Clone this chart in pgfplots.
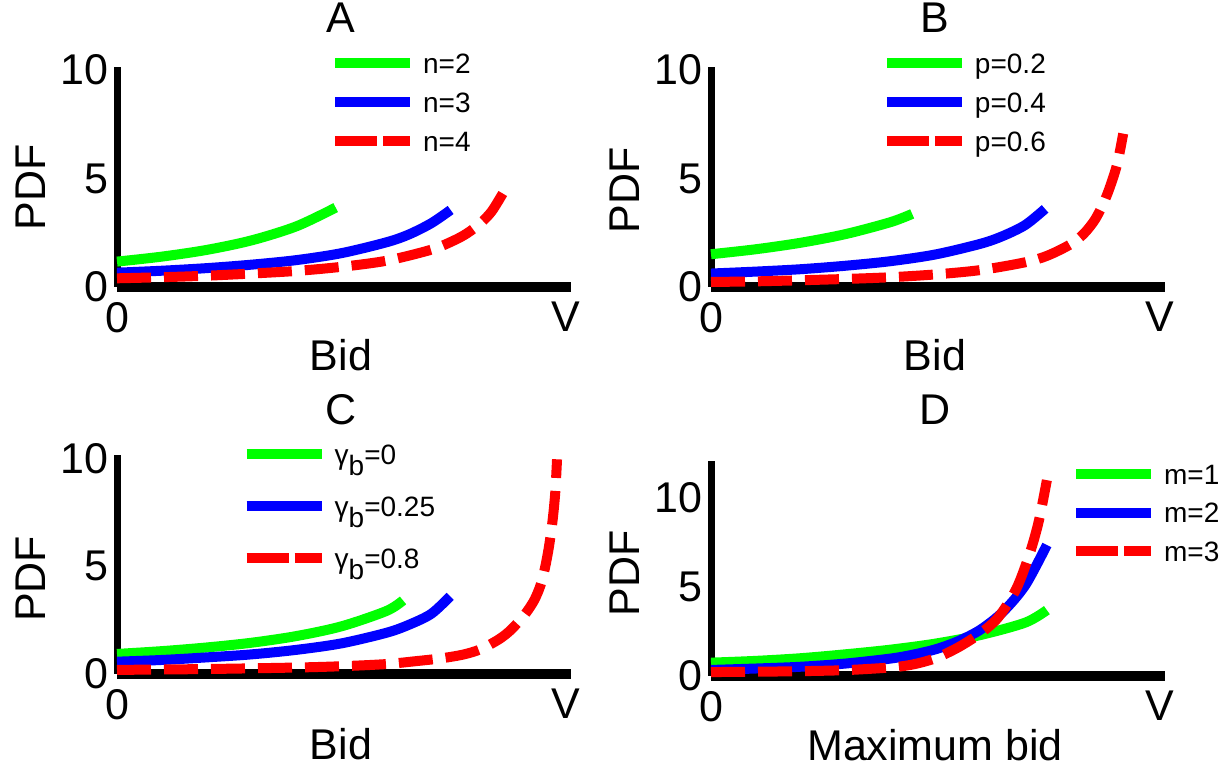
\documentclass[border=0pt]{standalone}
\usepackage{fontspec}
\setmainfont{Liberation Sans}
\usepackage{pgfplots}
\pgfplotsset{compat=1.18}

\definecolor{cgreen}{rgb}{0,1,0}
\definecolor{cblue}{rgb}{0,0,1}
\definecolor{cred}{rgb}{1,0,0}

\newcommand{\labfont}{\fontsize{21.5}{24}\selectfont}
\newcommand{\legfont}{\fontsize{14}{16}\selectfont}
\newcommand{\gb}{γ\raisebox{-5.5pt}{b}}

\pgfplotsset{
  panel/.style={
    scale only axis,
    width=226.75pt,
    clip=false,
    xmin=0, xmax=1.01,
    ymin=0,
    axis x line*=bottom,
    axis y line*=left,
    axis line style={-},
    x axis line style={-, line width=5pt, line cap=butt},
    y axis line style={-, line width=3.5pt, line cap=butt},
    xtick={0,1}, xticklabels={0,V},
    major tick length=0pt,
    tick label style={font=\labfont},
    xticklabel style={anchor=north, inner sep=0pt, yshift=-7.5pt},
    yticklabel style={anchor=east, inner sep=0pt, xshift=-4pt},
    label style={font=\labfont},
    every axis title shift=0pt,
    title style={font=\labfont, anchor=center},
    ylabel={PDF},
    legend cell align=left,
    legend style={draw=none, fill=none, inner sep=0pt, outer sep=0pt,
      anchor=west, font=\legfont, column sep=4pt,
      nodes={inner sep=0pt, text height=10pt, text depth=0pt}},
    legend image code/.code={\draw[#1] (0pt,0pt) -- (37.5pt,0pt);},
  },
  gline/.style={color=cgreen, line width=5pt, smooth, line join=round},
  bline/.style={color=cblue, line width=5pt, smooth, line join=round},
  rline/.style={color=cred, line width=5pt, smooth, line join=round,
    dash pattern=on 17pt off 6.5pt,
    legend image code/.code={\draw[##1, dash pattern=on 21pt off 3pt] (0pt,0pt) -- (37.5pt,0pt);}},
}

\begin{document}
\begin{tikzpicture}
\useasboundingbox (0,0) rectangle (612.5pt,384.5pt);

% ---------------- A: number of bidders
\begin{axis}[panel,
  at={(58.5pt,241pt)}, anchor=south west,
  height=110.1pt, ymax=10.15,
  ytick={0,5,10}, yticklabels={0,5,10},
  title={A}, title style={at={(axis description cs:0.494,1.221)}},
  xlabel={Bid}, xlabel style={at={(axis description cs:0.494,-0.309)}, anchor=center},
  ylabel style={at={(axis description cs:-0.19,0.454)}, anchor=center},
  legend style={at={(axis description cs:0.470,0.840)}, row sep=9.5pt},
]
\addplot[gline] coordinates {(0,1.17) (0.1,1.40) (0.2,1.71) (0.3,2.15) (0.4,2.80) (0.487,3.66)};
\addlegendentry{n=2}
\addplot[bline] coordinates {(0,0.66) (0.1,0.75) (0.2,0.87) (0.3,1.03) (0.4,1.24) (0.5,1.56) (0.6,2.06) (0.65,2.42) (0.7,2.94) (0.743,3.55)};
\addlegendentry{n=3}
\addplot[rline] coordinates {(0,0.40) (0.1,0.45) (0.2,0.52) (0.3,0.62) (0.4,0.74) (0.5,0.93) (0.6,1.21) (0.7,1.72) (0.75,2.14) (0.78,2.48) (0.81,2.95) (0.835,3.5) (0.862,4.41)};
\addlegendentry{n=4}
\end{axis}

% ---------------- B: probability p
\begin{axis}[panel,
  at={(355.5pt,241pt)}, anchor=south west,
  height=110.1pt, ymax=10.15,
  ytick={0,5,10}, yticklabels={0,5,10},
  title={B}, title style={at={(axis description cs:0.494,1.221)}},
  xlabel={Bid}, xlabel style={at={(axis description cs:0.494,-0.309)}, anchor=center},
  ylabel style={at={(axis description cs:-0.19,0.44)}, anchor=center},
  legend style={at={(axis description cs:0.377,0.840)}, row sep=9.5pt},
]
\addplot[gline] coordinates {(0,1.51) (0.1,1.74) (0.2,2.04) (0.3,2.44) (0.4,2.99) (0.448,3.37)};
\addlegendentry{p=0.2}
\addplot[bline] coordinates {(0,0.62) (0.1,0.71) (0.2,0.82) (0.3,0.98) (0.4,1.19) (0.5,1.50) (0.6,1.99) (0.65,2.35) (0.7,2.86) (0.744,3.6)};
\addlegendentry{p=0.4}
\addplot[rline] coordinates {(0,0.23) (0.1,0.26) (0.2,0.31) (0.3,0.37) (0.4,0.45) (0.5,0.58) (0.6,0.78) (0.7,1.14) (0.75,1.45) (0.8,1.96) (0.83,2.45) (0.855,3.1) (0.875,3.9) (0.89,4.7) (0.905,5.7) (0.918,7.07)};
\addlegendentry{p=0.6}
\end{axis}

% ---------------- C: gamma_b
\begin{axis}[panel,
  at={(58.5pt,47.5pt)}, anchor=south west,
  height=109.5pt, ymax=10.15,
  ytick={0,5,10}, yticklabels={0,5,10},
  title={C}, title style={at={(axis description cs:0.494,1.205)}},
  xlabel={Bid}, xlabel style={at={(axis description cs:0.494,-0.32)}, anchor=center},
  ylabel style={at={(axis description cs:-0.19,0.434)}, anchor=center},
  legend style={at={(axis description cs:0.275,0.767)}, row sep=16pt},
]
\addplot[gline] coordinates {(0,0.93) (0.1,1.06) (0.2,1.23) (0.3,1.45) (0.4,1.76) (0.5,2.21) (0.6,2.92) (0.637,3.41)};
\addlegendentry{\gb=0}
\addplot[bline] coordinates {(0,0.57) (0.1,0.65) (0.2,0.77) (0.3,0.91) (0.4,1.12) (0.5,1.42) (0.6,1.91) (0.65,2.28) (0.7,2.79) (0.742,3.6)};
\addlegendentry{\gb=0.25}
\addplot[rline] coordinates {(0,0.19) (0.2,0.23) (0.4,0.30) (0.5,0.36) (0.6,0.46) (0.668,0.6) (0.72,0.72) (0.771,0.9) (0.81,1.15) (0.85,1.6) (0.875,2.0) (0.9,2.55) (0.915,2.95) (0.93,3.45) (0.943,4.1) (0.953,4.9) (0.962,5.9) (0.97,7.1) (0.976,8.4) (0.98,9.95)};
\addlegendentry{\gb=0.8}
\end{axis}

% ---------------- D: number of items m
\begin{axis}[panel,
  at={(355.5pt,46.5pt)}, anchor=south west,
  height=107.7pt, ymax=12.1,
  ytick={0,5,10}, yticklabels={0,5,10},
  title={D}, title style={at={(axis description cs:0.494,1.235)}},
  xlabel={Maximum bid}, xlabel style={at={(axis description cs:0.494,-0.32)}, anchor=center},
  ylabel style={at={(axis description cs:-0.19,0.478)}, anchor=center},
  legend style={at={(axis description cs:0.794,0.757)}, row sep=9.25pt},
]
\addplot[gline] coordinates {(0,0.75) (0.1,0.85) (0.2,1.0) (0.3,1.22) (0.4,1.48) (0.5,1.82) (0.6,2.3) (0.7,3.0) (0.748,3.7)};
\addlegendentry{m=1}
\addplot[bline] coordinates {(0,0.34) (0.1,0.42) (0.2,0.52) (0.3,0.7) (0.4,0.98) (0.45,1.2) (0.5,1.5) (0.55,1.95) (0.6,2.6) (0.65,3.6) (0.7,5.1) (0.748,7.36)};
\addlegendentry{m=2}
\addplot[rline] coordinates {(0,0.22) (0.1,0.24) (0.2,0.27) (0.3,0.33) (0.4,0.48) (0.45,0.65) (0.5,1.0) (0.55,1.6) (0.6,2.4) (0.64,3.3) (0.68,4.9) (0.71,6.9) (0.73,8.7) (0.748,11.0)};
\addlegendentry{m=3}
\end{axis}
\end{tikzpicture}
\end{document}
